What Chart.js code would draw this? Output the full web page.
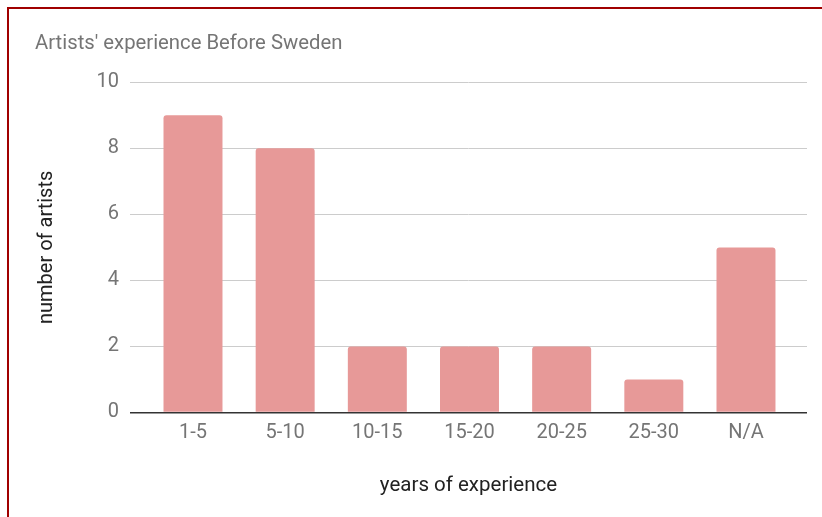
<!DOCTYPE html>
<html>
<head>
<meta charset="utf-8">
<script src="https://cdn.jsdelivr.net/npm/chart.js@4/dist/chart.umd.min.js"></script>
<style>
  html, body { margin: 0; padding: 0; background: #fff; }
  #wrap { position: relative; width: 822px; height: 517px; overflow: hidden; }
  #c { position: absolute; left: 0; top: 0; }
  #frame { position: absolute; left: 7px; top: 7px; width: 830px; height: 530px;
           border-left: 2px solid #a00000; border-top: 2px solid #a00000; pointer-events: none; }
</style>
</head>
<body>
<div id="wrap">
  <canvas id="c" width="822" height="517"></canvas>
  <div id="frame"></div>
</div>
<script>
const chartTitle = "Artists' experience Before Sweden";
const categories = ["1-5", "5-10", "10-15", "15-20", "20-25", "25-30", "N/A"];
const artistCounts = [9, 8, 2, 2, 2, 1, 5];
const yTickValues = [0, 2, 4, 6, 8, 10];
const xAxisTitle = "years of experience";
const yAxisTitle = "number of artists";

const FONT = "Roboto";
const points = artistCounts.map((v, i) => ({ x: i, y: v }));

new Chart(document.getElementById('c'), {
  type: 'bar',
  data: {
    datasets: [{
      data: points,
      backgroundColor: '#e79998',
      borderRadius: 3,
      borderSkipped: 'start',
      barPercentage: 0.64,
      categoryPercentage: 1.0
    }]
  },
  options: {
    responsive: false,
    animation: false,
    layout: { padding: { left: 35, right: 15, top: 0, bottom: 19 } },
    plugins: {
      legend: { display: false },
      tooltip: { enabled: false },
      title: {
        display: true,
        text: chartTitle,
        align: 'start',
        color: '#757575',
        font: { family: FONT, size: 20.3, weight: 'normal' },
        padding: { top: 32, bottom: 26 }
      }
    },
    scales: {
      x: {
        type: 'linear',
        offset: false,
        min: -0.6835,
        max: 6.662,
        grid: { display: false, drawTicks: false, offset: false },
        border: { display: false },
        afterBuildTicks: (scale) => { scale.ticks = categories.map((_, i) => ({ value: i })); },
        ticks: {
          autoSkip: false,
          maxRotation: 0,
          padding: 9,
          color: '#757575',
          font: { family: FONT, size: 20 },
          callback: (v) => categories[v]
        },
        title: {
          display: true,
          text: xAxisTitle,
          color: '#222',
          font: { family: FONT, size: 20.5 },
          padding: { top: 19, bottom: 0 }
        }
      },
      y: {
        min: 0,
        max: 10,
        afterBuildTicks: (scale) => { scale.ticks = yTickValues.map(v => ({ value: v })); },
        afterFit: (scale) => { scale.width = 95; },
        grid: {
          drawTicks: false,
          color: (ctx) => (ctx.tick && ctx.tick.value === 0 ? '#333333' : '#cccccc'),
          lineWidth: (ctx) => (ctx.tick && ctx.tick.value === 0 ? 1.5 : 1)
        },
        border: { display: false },
        ticks: {
          padding: 11,
          color: '#757575',
          font: { family: FONT, size: 20 }
        },
        title: {
          display: true,
          text: yAxisTitle,
          color: '#222',
          font: { family: FONT, size: 20 },
          padding: 0
        }
      }
    }
  }
});
</script>
</body>
</html>
